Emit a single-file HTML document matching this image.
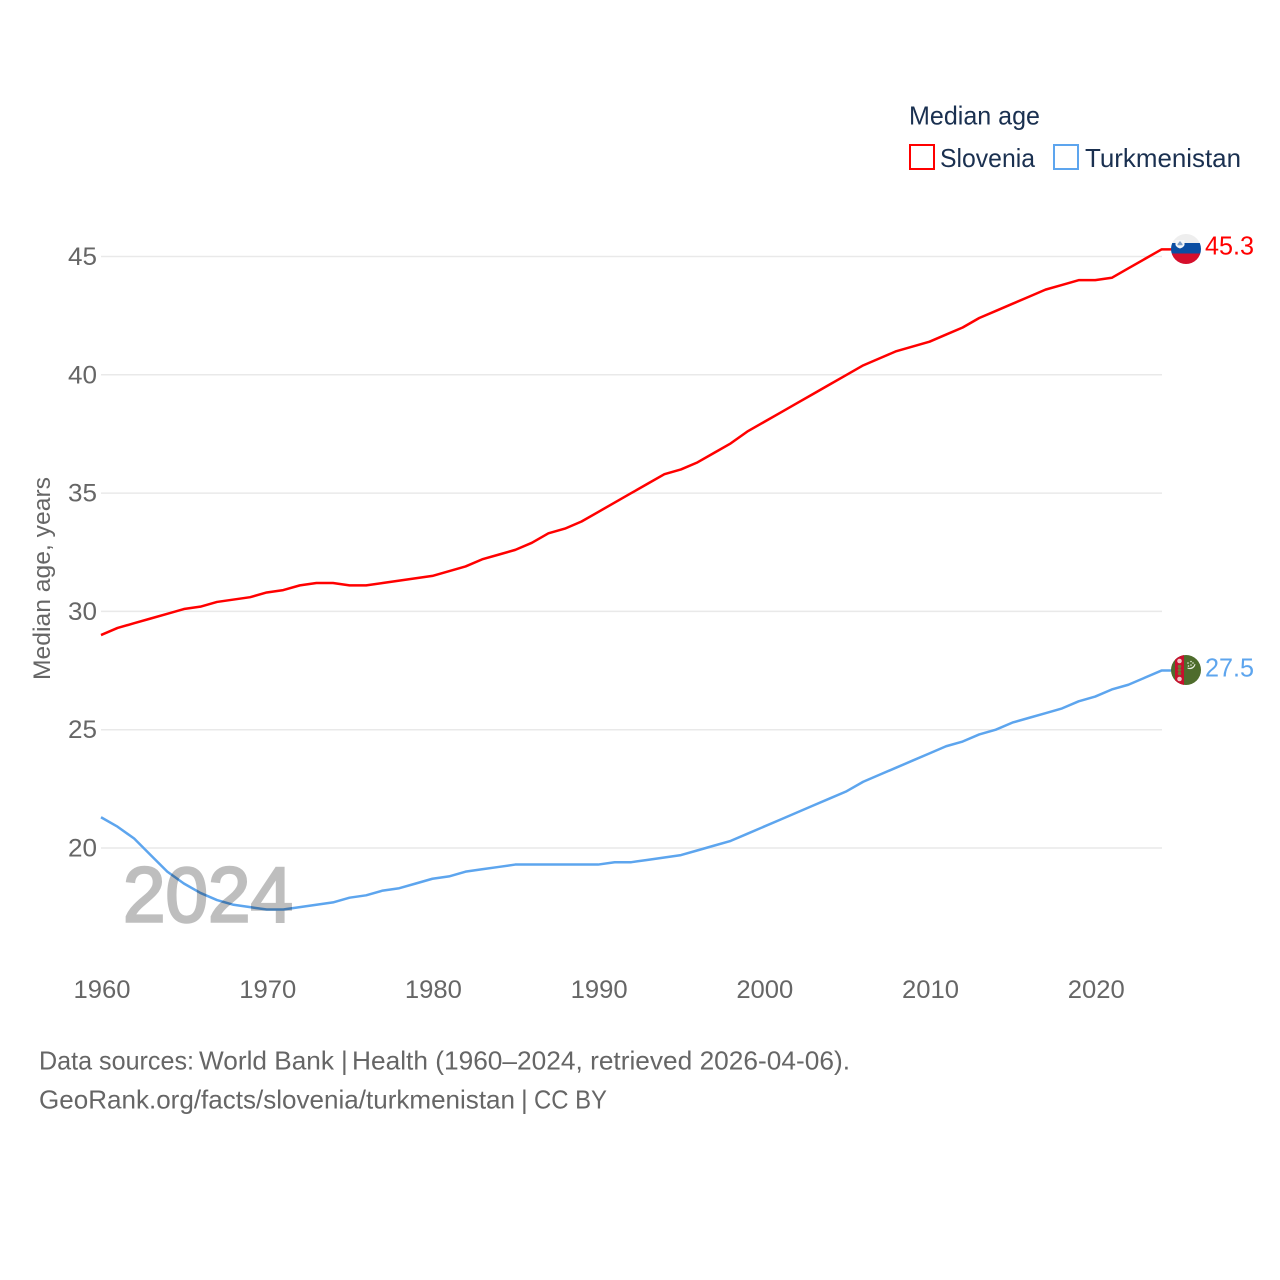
<!DOCTYPE html>
<html lang="en">
<head>
<meta charset="utf-8">
<title>Median age: Slovenia vs Turkmenistan</title>
<style>
html,body{margin:0;padding:0;background:#fff;width:1280px;height:1280px;overflow:hidden}
svg{display:block}
text{font-family:"Liberation Sans",sans-serif}
</style>
</head>
<body>
<svg id="chart" xmlns="http://www.w3.org/2000/svg" width="1280" height="1280" viewBox="0 0 1280 1280">
  <rect width="1280" height="1280" fill="#fff"/>
  <g id="grid"></g>
  <g id="yticks"></g>
  <g id="xticks"></g>
  <text transform="translate(50,680) rotate(-90)" font-size="24" fill="#666" textLength="203" lengthAdjust="spacingAndGlyphs">Median age, years</text>
  <g id="series"></g>
  <text x="123" y="921.500" font-size="78" fill="#000" stroke="#000" stroke-width="2.500" opacity="0.25" textLength="170" lengthAdjust="spacingAndGlyphs">2024</text>

  <g>
    <text x="909" y="124.500" font-size="26" fill="#1a3050" textLength="131" lengthAdjust="spacingAndGlyphs">Median age</text>
    <g>
      <rect x="910" y="145" width="24" height="24" fill="#fff" stroke="#ff0000" stroke-width="2"/>
      <text x="940" y="167" font-size="26" fill="#1a3050" textLength="95" lengthAdjust="spacingAndGlyphs">Slovenia</text>
    </g>
    <g>
      <rect x="1054" y="145" width="24" height="24" fill="#fff" stroke="#5da5ee" stroke-width="2"/>
      <text x="1085" y="167" font-size="26" fill="#1a3050" textLength="156" lengthAdjust="spacingAndGlyphs">Turkmenistan</text>
    </g>
  </g>

  <defs>
    <clipPath id="clip-si"><circle cx="1186" cy="249" r="15"/></clipPath>
    <clipPath id="clip-tm"><circle cx="1186" cy="670" r="15"/></clipPath>
  </defs>
  <g id="flag-si" clip-path="url(#clip-si)">
    <rect x="1171" y="234" width="30" height="9" fill="#eeeeee"/>
    <rect x="1171" y="243" width="30" height="10.500" fill="#0b4ea2"/>
    <rect x="1171" y="253.500" width="30" height="10.500" fill="#d50f2c"/>
    <path d="M1175.500 240h9v5q-1 2.500-4.500 3.500q-3.500-1-4.500-3.500z" fill="#f4f6f8"/>
    <path d="M1177.500 244l2.500-3l2.500 3v1.200h-5z" fill="#7fa0c8"/>
  </g>
  <g id="flag-tm" clip-path="url(#clip-tm)">
    <rect x="1171" y="655" width="30" height="30" fill="#4e6c2c"/>
    <rect x="1175" y="655" width="9" height="30" fill="#c8102e"/>
    <circle cx="1179.500" cy="661" r="2.300" fill="#f0c8c8"/>
    <circle cx="1179.500" cy="666.500" r="1.800" fill="#6c7a35"/>
    <circle cx="1179.500" cy="670" r="1.800" fill="#6c7a35"/>
    <circle cx="1179.500" cy="673.500" r="1.800" fill="#6c7a35"/>
    <circle cx="1179.500" cy="679" r="2.300" fill="#f0c8c8"/>
    <path d="M1195 664a5 5 0 0 1-7.500 4a6 6 0 0 0 7.500-4z" fill="#e8eee0" stroke="#e8eee0" stroke-width="0.800"/>
    <circle cx="1188" cy="663" r="0.800" fill="#e8eee0"/>
    <circle cx="1191" cy="661.500" r="0.800" fill="#e8eee0"/>
    <circle cx="1193" cy="663" r="0.800" fill="#e8eee0"/>
    <circle cx="1188.500" cy="666" r="0.800" fill="#e8eee0"/>
    <circle cx="1191" cy="665" r="0.800" fill="#e8eee0"/>
  </g>
  <text id="end-label-si" x="1205" y="254.500" font-size="26" fill="#ff0000" textLength="49" lengthAdjust="spacingAndGlyphs"></text>
  <text id="end-label-tm" x="1205" y="676.500" font-size="26" fill="#5da5ee" textLength="49" lengthAdjust="spacingAndGlyphs"></text>

  <g>
    <g>
      <text x="39" y="1069.500" font-size="26" fill="#666" textLength="155" lengthAdjust="spacingAndGlyphs">Data sources:</text>
      <text x="199" y="1069.500" font-size="26" fill="#666" textLength="135" lengthAdjust="spacingAndGlyphs">World Bank</text>
      <text x="341" y="1069.500" font-size="26" fill="#666">|</text>
      <text x="352" y="1069.500" font-size="26" fill="#666" textLength="498" lengthAdjust="spacingAndGlyphs">Health (1960–2024, retrieved 2026-04-06).</text>
    </g>
    <g>
      <text x="39" y="1108.500" font-size="26" fill="#666" textLength="476" lengthAdjust="spacingAndGlyphs">GeoRank.org/facts/slovenia/turkmenistan</text>
      <text x="521" y="1108.500" font-size="26" fill="#666">|</text>
      <text x="534" y="1108.500" font-size="26" fill="#666" textLength="73" lengthAdjust="spacingAndGlyphs">CC BY</text>
    </g>
  </g>
</svg>
<script>
const years = [1960,1961,1962,1963,1964,1965,1966,1967,1968,1969,1970,1971,1972,1973,1974,1975,1976,1977,1978,1979,1980,1981,1982,1983,1984,1985,1986,1987,1988,1989,1990,1991,1992,1993,1994,1995,1996,1997,1998,1999,2000,2001,2002,2003,2004,2005,2006,2007,2008,2009,2010,2011,2012,2013,2014,2015,2016,2017,2018,2019,2020,2021,2022,2023,2024];
const slovenia = [29.0,29.3,29.5,29.7,29.9,30.1,30.2,30.4,30.5,30.6,30.8,30.9,31.1,31.2,31.2,31.1,31.1,31.2,31.3,31.4,31.5,31.7,31.9,32.2,32.4,32.6,32.9,33.3,33.5,33.8,34.2,34.6,35.0,35.4,35.8,36.0,36.3,36.7,37.1,37.6,38.0,38.4,38.8,39.2,39.6,40.0,40.4,40.7,41.0,41.2,41.4,41.7,42.0,42.4,42.7,43.0,43.3,43.6,43.8,44.0,44.0,44.1,44.5,44.9,45.3];
const turkmenistan = [21.3,20.9,20.4,19.7,19.0,18.5,18.1,17.8,17.6,17.5,17.4,17.4,17.5,17.6,17.7,17.9,18.0,18.2,18.3,18.5,18.7,18.8,19.0,19.1,19.2,19.3,19.3,19.3,19.3,19.3,19.3,19.4,19.4,19.5,19.6,19.7,19.9,20.1,20.3,20.6,20.9,21.2,21.5,21.8,22.1,22.4,22.8,23.1,23.4,23.7,24.0,24.3,24.5,24.8,25.0,25.3,25.5,25.7,25.9,26.2,26.4,26.7,26.9,27.2,27.5];
const yTicks = [20,25,30,35,40,45];
const xTicks = [1960,1970,1980,1990,2000,2010,2020];

const NS = 'http://www.w3.org/2000/svg';
const xScale = function (year) { return 101 + (year - 1960) * (1060.5 / 64); };
const yScale = function (value) { return 848 - (value - 20) * 23.66; };
const FLAG_X = 1172;

const grid = document.getElementById('grid');
const yGroup = document.getElementById('yticks');
yTicks.forEach(function (t) {
  const line = document.createElementNS(NS, 'line');
  
  
  line.setAttribute('x1', 101);
  line.setAttribute('x2', 1162);
  line.setAttribute('y1', yScale(t));
  line.setAttribute('y2', yScale(t));
  line.setAttribute('stroke', '#e9e9e9');
  line.setAttribute('stroke-width', '1.5');
  grid.appendChild(line);
  const label = document.createElementNS(NS, 'text');
  
  
  label.setAttribute('x', 97);
  label.setAttribute('y', yScale(t) + 8.500);
  label.setAttribute('text-anchor', 'end');
  label.setAttribute('font-size', '25');
  label.setAttribute('fill', '#666');
  label.setAttribute('textLength', '29');
  label.setAttribute('lengthAdjust', 'spacingAndGlyphs');
  label.textContent = t;
  yGroup.appendChild(label);
});

const xGroup = document.getElementById('xticks');
xTicks.forEach(function (t) {
  const label = document.createElementNS(NS, 'text');
  
  
  label.setAttribute('x', xScale(t) + 1);
  label.setAttribute('y', 998);
  label.setAttribute('text-anchor', 'middle');
  label.setAttribute('font-size', '25');
  label.setAttribute('fill', '#666');
  label.setAttribute('textLength', '57');
  label.setAttribute('lengthAdjust', 'spacingAndGlyphs');
  label.textContent = t;
  xGroup.appendChild(label);
});

const seriesGroup = document.getElementById('series');
function drawSeries(values, color, name) {
  const pts = values.map(function (v, i) {
    return xScale(years[i]).toFixed(2) + ',' + yScale(v).toFixed(2);
  });
  pts.push(FLAG_X + ',' + yScale(values[values.length - 1]).toFixed(2));
  const path = document.createElementNS(NS, 'polyline');
  
  
  path.setAttribute('points', pts.join(' '));
  path.setAttribute('fill', 'none');
  path.setAttribute('stroke', color);
  path.setAttribute('stroke-width', '2.500');
  path.setAttribute('stroke-linejoin', 'round');
  seriesGroup.appendChild(path);
}
drawSeries(slovenia, '#ff0000', 'line-slovenia');
drawSeries(turkmenistan, '#5da5ee', 'line-turkmenistan');

document.getElementById('end-label-si').textContent = slovenia[slovenia.length - 1].toFixed(1);
document.getElementById('end-label-tm').textContent = turkmenistan[turkmenistan.length - 1].toFixed(1);
</script>
</body>
</html>
